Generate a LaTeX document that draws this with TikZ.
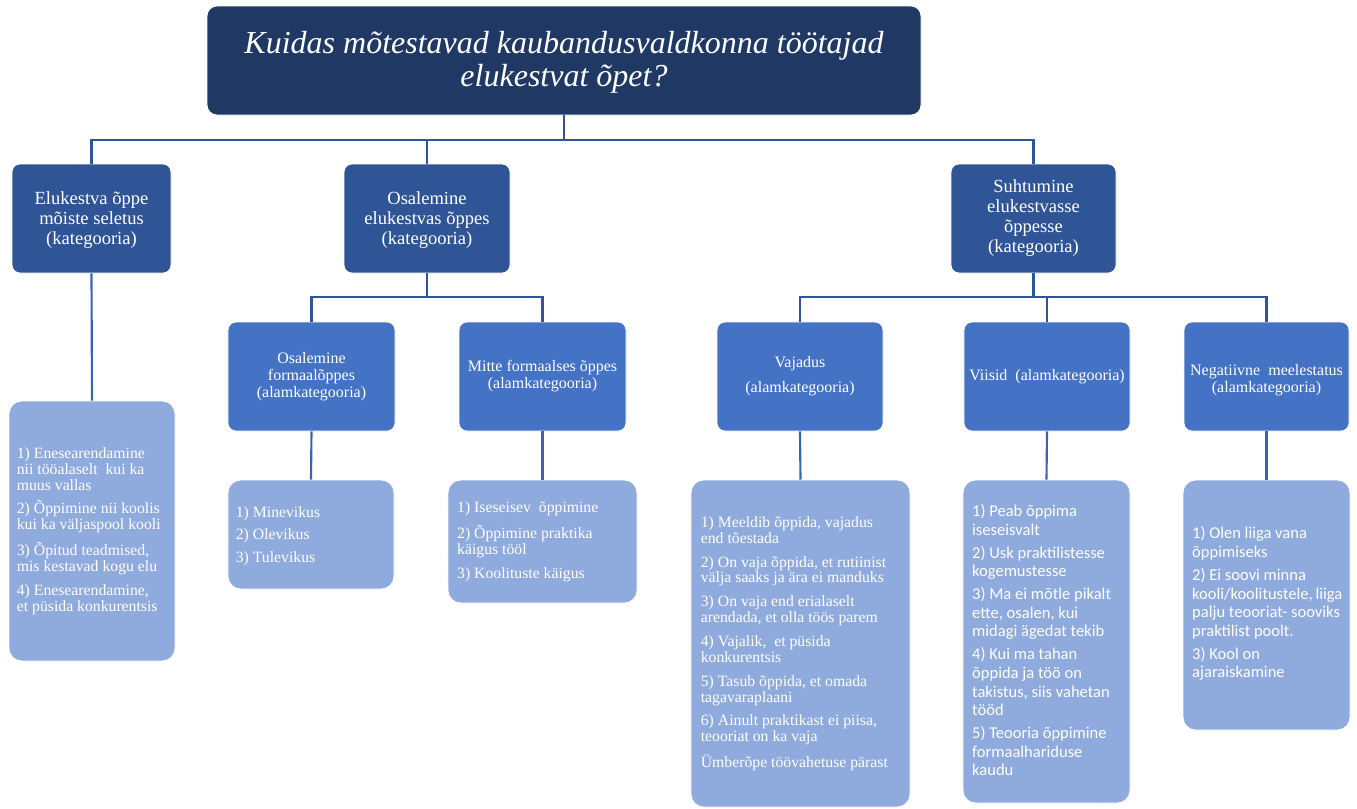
\documentclass[tikz,border=0pt]{standalone}
\usepackage{fontspec}
\setmainfont{Liberation Serif}
\newfontfamily\calfont{Carlito}
\usetikzlibrary{fit}
\definecolor{cTitle}{HTML}{203864}
\definecolor{cCat}{HTML}{2F5597}
\definecolor{cSub}{HTML}{4472C4}
\definecolor{cLeaf}{HTML}{8FAADC}
\definecolor{cLineA}{HTML}{2F5597}
\definecolor{cLineB}{HTML}{3A63B2}
\begin{document}
\begin{tikzpicture}[x=0.75pt,y=-0.75pt,
  box/.style={inner sep=0pt, draw=white, line width=0.6pt},
  titlebox/.style={box, fill=cTitle, rounded corners=7.5pt},
  catbox/.style={box, fill=cCat, rounded corners=6pt},
  subbox/.style={box, fill=cSub, rounded corners=6pt},
  leafbox/.style={box, fill=cLeaf, rounded corners=9.5pt},
  connA/.style={draw=cLineA, line width=1.6pt},
  connB/.style={draw=cLineB, line width=1.6pt},
  ttext/.style={text=white, align=center, inner sep=0pt, font=\fontsize{24}{24.75}\selectfont\itshape},
  ctext/.style={text=white, align=center, inner sep=0pt, font=\fontsize{13.9}{15}\selectfont},
  stext/.style={text=white, align=center, inner sep=0pt, font=\fontsize{12}{12.75}\selectfont},
  ltext/.style={text=white, align=left, inner sep=0pt, anchor=west, font=\fontsize{11.8}{11.9}\selectfont},
  ktext/.style={text=white, align=left, inner sep=0pt, anchor=west, font=\calfont\fontsize{12.4}{13.9}\selectfont}
]
\useasboundingbox (0,0) rectangle (1357,808);

% boxes
\node[titlebox, fit={(207,6) (921,115)}] (t) {};
\node[catbox, fit={(12,164) (171,273)}] (b1) {};
\node[catbox, fit={(344,164) (510,273)}] (b2) {};
\node[catbox, fit={(951,164) (1116,273)}] (b3) {};

\node[subbox, fit={(228,322) (395,431)}] (s1) {};
\node[subbox, fit={(459,322) (626,431)}] (s2) {};
\node[subbox, fit={(717,322) (883,431)}] (s3) {};
\node[subbox, fit={(964,322) (1130,431)}] (s4) {};
\node[subbox, fit={(1184,322) (1349,431)}] (s5) {};

\node[leafbox, fit={(9,401) (175,661)}] (l1) {};
\node[leafbox, fit={(228,480) (394,589)}] (l2) {};
\node[leafbox, fit={(448,480) (637,603)}] (l3) {};
\node[leafbox, fit={(691,480) (910,807)}] (l4) {};
\node[leafbox, fit={(963,480) (1130,803)}] (l5) {};
\node[leafbox, fit={(1183,480) (1350,730)}] (l6) {};

% connectors
\coordinate (j0) at (564,140);
\coordinate (j2) at (427,297);
\coordinate (j3) at (1033.5,297);
\draw[connA] (t.south) -- (j0);
\draw[connA] (b1.north) |- (j0) -| (b3.north);
\draw[connA] (b2.north) -- (b2.north |- j0);
\draw[connA] (b2.south) -- (j2);
\draw[connA] (s1.north) |- (j2) -| (s2.north);
\draw[connA] (b3.south) -- (j3);
\draw[connA] (s3.north) |- (j3) -| (s5.north);
\draw[connA] (s4.north) -- (s4.north |- j3);
\draw[connB] (b1.south) -- (l1.north);
\draw[connB] (s1.south) -- (l2.north);
\draw[connB] (s2.south) -- (l3.north);
\draw[connB] (s3.south) -- (l4.north);
\draw[connB] (s4.south) -- (l5.north);
\draw[connB] (s5.south) -- (l6.north);

% texts
\node[ttext] (tt) at (564,62) {Kuidas mõtestavad kaubandusvaldkonna töötajad\\elukestvat õpet?};
\node[ctext] (bt1) at ([yshift=-1.5pt]b1.center) {Elukestva õppe\\mõiste seletus\\(kategooria)};
\node[ctext] (bt2) at ([yshift=-1.5pt]b2.center) {Osalemine\\elukestvas õppes\\(kategooria)};
\node[ctext] (bt3) at (b3.center) {Suhtumine\\elukestvasse\\õppesse\\(kategooria)};

\node[stext] (st1) at (s1.center) {Osalemine\\formaalõppes\\(alamkategooria)};
\node[stext] (st2) at (s2.center) {Mitte formaalses õppes\\(alamkategooria)};
\node[stext] (st3) at (s3.center) {Vajadus\\[6pt](alamkategooria)};
\node[stext] (st4) at (s4.center) {Viisid\ \ (alamkategooria)};
\node[stext] (st5) at ([yshift=-3pt]s5.center) {Negatiivne\ \ meelestatus\\(alamkategooria)};

\node[ltext] (lt1) at ([xshift=6pt]l1.west) {1) Enesearendamine\\nii tööalaselt\ \ kui ka\\muus vallas\\[6pt]2) Õppimine nii koolis\\kui ka väljaspool kooli\\[6pt]3) Õpitud teadmised,\\mis kestavad kogu elu\\[6pt]4) Enesearendamine,\\et püsida konkurentsis};
\node[ltext] (lt2) at ([xshift=6pt,yshift=-1pt]l2.west) {1) Minevikus\\[5pt]2) Olevikus\\[5pt]3) Tulevikus};
\node[ltext] (lt3) at ([xshift=7pt]l3.west) {1) Iseseisev\ \ õppimine\\[6pt]2) Õppimine praktika\\käigus tööl\\[6pt]3) Koolituste käigus};
\node[ltext] (lt4) at ([xshift=7.5pt]l4.west) {1) Meeldib õppida, vajadus\\end tõestada\\[6pt]2) On vaja õppida, et rutiinist\\välja saaks ja ära ei manduks\\[6pt]3) On vaja end erialaselt\\arendada, et olla töös parem\\[6pt]4) Vajalik,\ \ et püsida\\konkurentsis\\[6pt]5) Tasub õppida, et omada\\tagavaraplaani\\[6pt]6) Ainult praktikast ei piisa,\\teooriat on ka vaja\\[6pt]Ümberõpe töövahetuse pärast};
\node[ktext] (lt5) at ([xshift=7pt,yshift=1pt]l5.west) {1) Peab õppima\\iseseisvalt\\[3.4pt]2) Usk praktilistesse\\kogemustesse\\[3.4pt]3) Ma ei mõtle pikalt\\ette, osalen, kui\\midagi ägedat tekib\\[3.4pt]4) Kui ma tahan\\õppida ja töö on\\takistus, siis vahetan\\tööd\\[3.4pt]5) Teooria õppimine\\formaalhariduse\\kaudu};
\node[ktext] (lt6) at ([xshift=7pt,yshift=1pt]l6.west) {1) Olen liiga vana\\õppimiseks\\[3.4pt]2) Ei soovi minna\\kooli/koolitustele,\,liiga\\palju teooriat- sooviks\\praktilist poolt.\\[3.4pt]3) Kool on\\ajaraiskamine};
\end{tikzpicture}
\end{document}
